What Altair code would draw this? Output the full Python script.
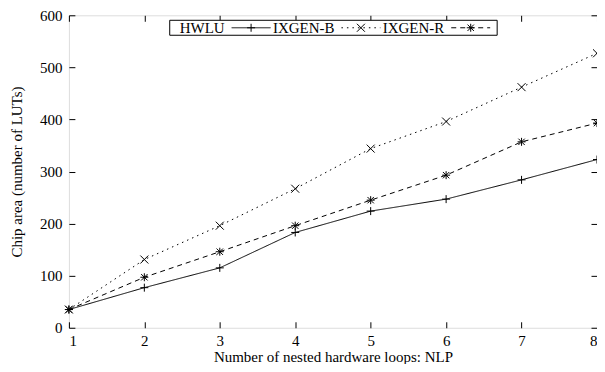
import altair as alt
import pandas as pd

nlp = [1, 2, 3, 4, 5, 6, 7, 8]
hwlu = [35, 77, 115, 183, 224, 247, 284, 323]
ixgen_b = [35, 131, 196, 267, 344, 396, 462, 527]
ixgen_r = [35, 97, 146, 196, 245, 293, 357, 393]
series = ["HWLU", "IXGEN-B", "IXGEN-R"]
x_ticks = [1, 2, 3, 4, 5, 6, 7, 8]
y_ticks = [0, 100, 200, 300, 400, 500, 600]

rows = []
for name, vals in zip(series, [hwlu, ixgen_b, ixgen_r]):
    for x, v in zip(nlp, vals):
        rows.append({"nlp": x, "area": v, "series": name})
df = pd.DataFrame(rows)

FONT = "Liberation Serif, Times New Roman, Times, serif"
FS = 15
PLUS = "M-1,0H1M0,-1V1"
CROSS = "M-1,-1L1,1M-1,1L1,-1"
STAR = "M-1,0H1M0,-1V1M-0.8,-0.8L0.8,0.8M-0.8,0.8L0.8,-0.8"
dashes = [[1, 0], [1.5, 4], [5, 4]]
shapes = [PLUS, CROSS, STAR]

xs = alt.Scale(domain=[1, 8], nice=False)
ys = alt.Scale(domain=[0, 600], nice=False)
TK = 6

x_axis = alt.Axis(values=x_ticks, format="d", orient="bottom", offset=-TK, tickSize=TK, domain=False,
                  grid=False, labelFont=FONT, labelFontSize=FS, labelColor="black",
                  tickColor="black", labelPadding=6, title="Number of nested hardware loops: NLP",
                  titleFont=FONT, titleFontSize=FS, titleFontWeight="normal", titleColor="black",
                  titlePadding=1)
y_axis = alt.Axis(values=y_ticks, format="d", orient="left", offset=-TK, tickSize=TK, domain=False,
                  grid=False, labelFont=FONT, labelFontSize=FS, labelColor="black",
                  tickColor="black", labelPadding=7, title="Chip area (number of LUTs)",
                  titleFont=FONT, titleFontSize=FS, titleFontWeight="normal", titleColor="black",
                  titlePadding=15)

base = alt.Chart(df)
lines = base.mark_line(color="black", strokeWidth=1).encode(
    x=alt.X("nlp:Q", scale=xs, axis=x_axis),
    y=alt.Y("area:Q", scale=ys, axis=y_axis),
    detail="series:N",
    strokeDash=alt.StrokeDash("series:N", scale=alt.Scale(domain=series, range=dashes), legend=None),
)
points = base.mark_point(color="black", filled=False, strokeWidth=1, size=64, opacity=1).encode(
    x=alt.X("nlp:Q", scale=xs),
    y=alt.Y("area:Q", scale=ys),
    shape=alt.Shape("series:N", scale=alt.Scale(domain=series, range=shapes), legend=None),
)

one = pd.DataFrame({"k": [0]})
legend_layers = [
    alt.Chart(one).mark_rect(fill="white", stroke="black", strokeWidth=1).encode(
        x=alt.value(101), x2=alt.value(429), y=alt.value(5), y2=alt.value(20))
]
text_right = [156, 266, 376]
sample_left = [163, 273, 383]
for i, name in enumerate(series):
    legend_layers.append(
        alt.Chart(one).mark_text(text=name, font=FONT, fontSize=FS, align="right",
                                 baseline="alphabetic", color="black").encode(
            x=alt.value(text_right[i]), y=alt.value(18)))
    legend_layers.append(
        alt.Chart(one).mark_rule(color="black", strokeWidth=1, strokeDash=dashes[i]).encode(
            x=alt.value(sample_left[i]), x2=alt.value(sample_left[i] + 39), y=alt.value(12.5)))
    legend_layers.append(
        alt.Chart(one).mark_point(shape=shapes[i], color="black", filled=False, strokeWidth=1,
                                  size=64, opacity=1).encode(
            x=alt.value(sample_left[i] + 19.5), y=alt.value(12.5)))

main = alt.layer(lines, points, *legend_layers)

mirror = base.mark_point(opacity=0).encode(
    x=alt.X("nlp:Q", scale=xs, axis=alt.Axis(values=x_ticks, orient="top", offset=-TK, tickSize=TK,
                                               domain=False, grid=False, labels=False, title=None,
                                               tickColor="black")),
    y=alt.Y("area:Q", scale=ys, axis=alt.Axis(values=y_ticks, orient="right", offset=-TK, tickSize=TK,
                                                domain=False, grid=False, labels=False, title=None,
                                                tickColor="black")),
)

chart = alt.layer(main, mirror).resolve_scale(x="independent", y="independent").properties(
    width=529, height=313,
    autosize=alt.AutoSizeParams(type="none"),
    padding={"left": 61, "top": 7, "right": 0, "bottom": 36},
).configure_view(stroke="black", strokeWidth=1).configure(background="white")

chart.save("out.html", embed_options={"renderer": "svg", "actions": False})
